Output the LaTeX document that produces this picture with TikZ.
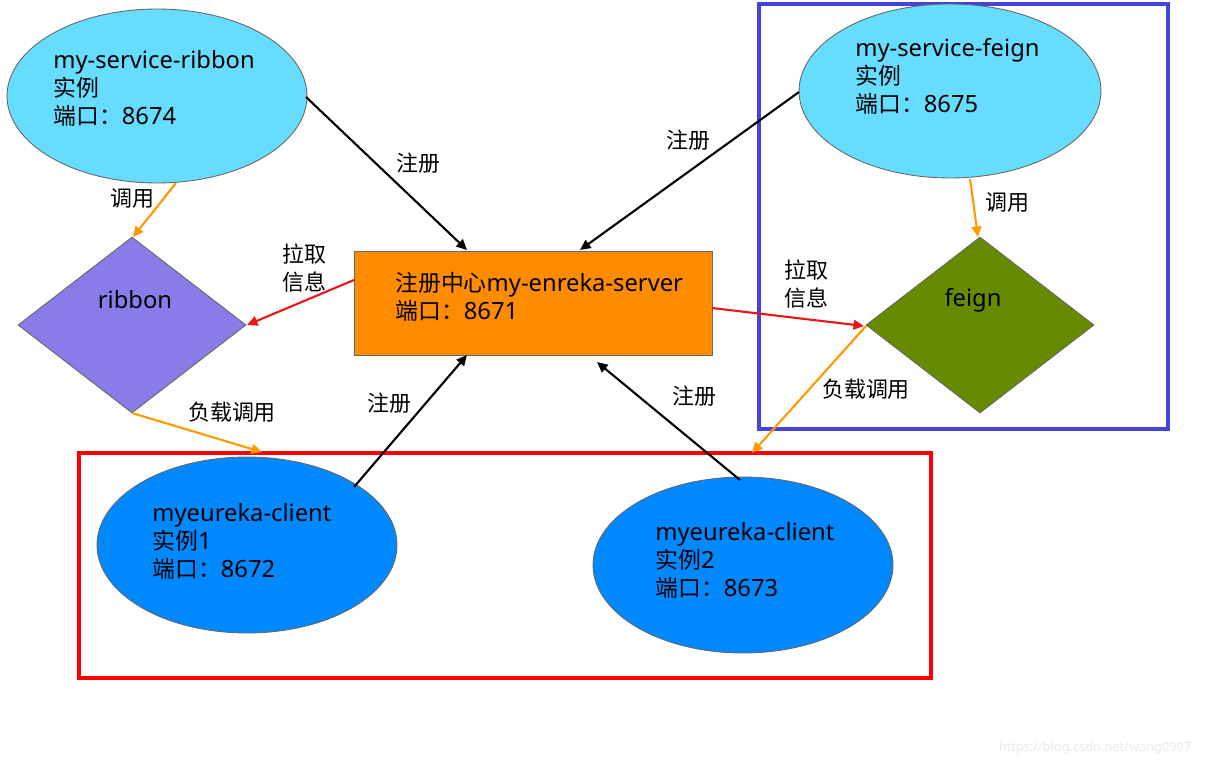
\documentclass[tikz,border=0pt]{standalone}
\usepackage{fontspec}
\setmainfont{Noto Sans}[Scale=1.04]
\newfontfamily\cjk{Noto Sans CJK SC}
\usetikzlibrary{shapes.geometric,arrows.meta}
\definecolor{cyanfill}{HTML}{66DDFF}
\definecolor{bluefill}{HTML}{0088FF}
\definecolor{purplefill}{HTML}{8A7CE8}
\definecolor{orangefill}{HTML}{FF8C00}
\definecolor{olivefill}{HTML}{668B00}
\definecolor{edgegray}{HTML}{666666}
\definecolor{frameblue}{HTML}{4444DD}
\definecolor{framered}{HTML}{FF0000}
\definecolor{arrorange}{HTML}{FF9900}
\definecolor{arrred}{HTML}{EE1515}
\definecolor{wm}{HTML}{E8E8E8}
\tikzset{
  shp/.style={draw=edgegray, line width=0.5pt, inner sep=0pt},
  ell/.style={shp, ellipse, minimum width=6cm, minimum height=3.5cm},
  dia/.style={shp, diamond, minimum width=4.56cm, minimum height=3.52cm},
  txt/.style={font=\fontsize{13pt}{15.9pt}\selectfont, align=left, inner sep=0pt, anchor=west},
  lbl/.style={font=\fontsize{12.5pt}{15.9pt}\selectfont\cjk, align=left, inner sep=0pt},
  dlbl/.style={font=\fontsize{13pt}{15.9pt}\selectfont, inner sep=0pt},
  tip/.style={-{Triangle[length=6pt,width=5.5pt]}},
  blk/.style={tip, line width=1.2pt, black},
  org/.style={tip, line width=1.2pt, arrorange},
  rdd/.style={tip, line width=1.2pt, arrred},
  frame/.style={line width=1.8pt}
}
\begin{document}
\begin{tikzpicture}[x=0.02cm,y=-0.02cm]
\useasboundingbox (0,0) rectangle (1212,767);
% frames
\draw[frame, frameblue] (759,4) rectangle (1168,429);
\draw[frame, framered] (79,453) rectangle (931,678);
% shapes
\node[ell, fill=cyanfill, minimum width=6cm, minimum height=3.48cm] (ribE) at (157,96) {};
\node[ell, fill=cyanfill, minimum width=6.04cm, minimum height=3.48cm] (feiE) at (950,91) {};
\node[dia, fill=purplefill] (ribD) at (132,325) {};
\node[dia, fill=olivefill] (feiD) at (980,325) {};
\node[shp, fill=orangefill, minimum width=7.16cm, minimum height=2.08cm] (srv) at (533,303) {};
\node[ell, fill=bluefill, minimum width=6cm, minimum height=3.52cm] (c1) at (247,545) {};
\node[ell, fill=bluefill, minimum width=6cm, minimum height=3.52cm] (c2) at (743,565) {};
% texts
\node[txt] (ribT) at (53,88) {my-service-ribbon\\{\cjk 实例}\\{\cjk 端口：}8674};
\node[txt] (feiT) at (855,76) {my-service-feign\\{\cjk 实例}\\{\cjk 端口：}8675};
\node[dlbl] (ribDT) at (135,300) {ribbon};
\node[dlbl] (feiDT) at (973,300) {feign};
\node[txt] (srvT) at (395,297) {{\cjk 注册中心}my-enreka-server\\{\cjk 端口：}8671};
\node[txt] (c1T) at (152,541) {myeureka-client\\{\cjk 实例}1\\{\cjk 端口：}8672};
\node[txt] (c2T) at (655,560) {myeureka-client\\{\cjk 实例}2\\{\cjk 端口：}8673};
% connector end points
\coordinate (a1s) at (306,97);  \coordinate (a1e) at (467,250);
\coordinate (a2s) at (799,92);  \coordinate (a2e) at (580,250);
\coordinate (a3s) at (176,183); \coordinate (a3e) at (133,237);
\coordinate (a4s) at (970,179); \coordinate (a4e) at (978,237);
\coordinate (a5s) at (354,280); \coordinate (a5e) at (247,325);
\coordinate (a6s) at (712,308); \coordinate (a6e) at (864,326);
\coordinate (a7s) at (132,413); \coordinate (a7e) at (262,452);
\coordinate (a8s) at (866,326); \coordinate (a8e) at (752,453);
\coordinate (a9s) at (354,487); \coordinate (a9e) at (467,355);
\coordinate (a10s) at (740,480); \coordinate (a10e) at (597,362);
% connectors
\draw[blk] (a1s) -- (a1e);
\draw[blk] (a2s) -- (a2e);
\draw[org] (a3s) -- (a3e);
\draw[org] (a4s) -- (a4e);
\draw[rdd] (a5s) -- (a5e);
\draw[rdd] (a6s) -- (a6e);
\draw[org] (a7s) -- (a7e);
\draw[org] (a8s) -- (a8e);
\draw[blk] (a9s) -- (a9e);
\draw[blk] (a10s) -- (a10e);
% connector labels
\node[lbl] (l1) at (418,163) {注册};
\node[lbl] (l2) at (688,140) {注册};
\node[lbl] (l3) at (132,198) {调用};
\node[lbl] (l4) at (1007,202) {调用};
\node[lbl] (l5) at (304,268) {拉取\\信息};
\node[lbl] (l6) at (806,284) {拉取\\信息};
\node[lbl] (l7) at (232,412) {负载调用};
\node[lbl] (l8) at (866,389) {负载调用};
\node[lbl] (l9) at (389,403) {注册};
\node[lbl] (l10) at (694,396) {注册};
% watermark
\node[dlbl, font=\fontsize{7pt}{9pt}\selectfont, text=wm] (wmk) at (1095,748) {https://blog.csdn.net/wang0907};
\end{tikzpicture}
\end{document}
